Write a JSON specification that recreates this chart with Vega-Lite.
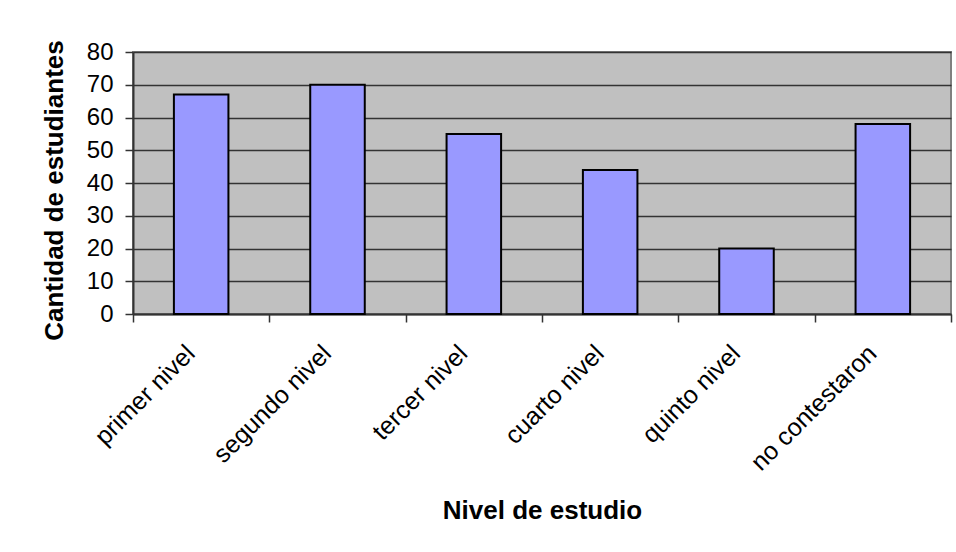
{
  "$schema": "https://vega.github.io/schema/vega-lite/v6.json",
  "autosize": {"type": "none"},
  "width": 818,
  "height": 262,
  "padding": {"left": 133, "top": 52, "right": 5, "bottom": 238},
  "background": "white",
  "data": {
    "values": [
      {"nivel": "primer nivel", "cantidad": 67},
      {"nivel": "segundo nivel", "cantidad": 70},
      {"nivel": "tercer nivel", "cantidad": 55},
      {"nivel": "cuarto nivel", "cantidad": 44},
      {"nivel": "quinto nivel", "cantidad": 20},
      {"nivel": "no contestaron", "cantidad": 58}
    ]
  },
  "mark": {
    "type": "bar",
    "fill": "#9999FF",
    "stroke": "#000000",
    "strokeWidth": 2,
    "width": {"band": 0.4}
  },
  "encoding": {
    "x": {
      "field": "nivel",
      "type": "nominal",
      "sort": null,
      "scale": {"paddingInner": 0, "paddingOuter": 0},
      "axis": {
        "title": "Nivel de estudio",
        "titleFont": "Liberation Sans",
        "titleFontSize": 26,
        "titleFontWeight": "bold",
        "titleColor": "#000000",
        "titlePadding": 22,
        "labelFont": "Liberation Sans",
        "labelFontSize": 25,
        "labelColor": "#000000",
        "labelAngle": -45,
        "labelAlign": "right",
        "labelBaseline": "middle",
        "labelPadding": 27,
        "labelOffset": -11,
        "tickBand": "extent",
        "tickSize": 8,
        "tickColor": "#333333",
        "tickWidth": 1.5,
        "domainColor": "#333333",
        "domainWidth": 2,
        "grid": false
      }
    },
    "y": {
      "field": "cantidad",
      "type": "quantitative",
      "scale": {"domain": [0, 80], "nice": false},
      "axis": {
        "title": "Cantidad de estudiantes",
        "titleFont": "Liberation Sans",
        "titleFontSize": 26,
        "titleFontWeight": "bold",
        "titleColor": "#000000",
        "titlePadding": 19,
        "titleY": 138,
        "labelFont": "Liberation Sans",
        "labelFontSize": 24,
        "labelColor": "#000000",
        "labelPadding": 12,
        "values": [0, 10, 20, 30, 40, 50, 60, 70, 80],
        "tickSize": 8,
        "tickColor": "#333333",
        "tickWidth": 1.5,
        "domainColor": "#333333",
        "domainWidth": 2,
        "grid": true,
        "gridColor": "#333333",
        "gridWidth": 1.5
      }
    }
  },
  "config": {
    "view": {"fill": "#C0C0C0", "stroke": "#808080", "strokeWidth": 2}
  }
}
